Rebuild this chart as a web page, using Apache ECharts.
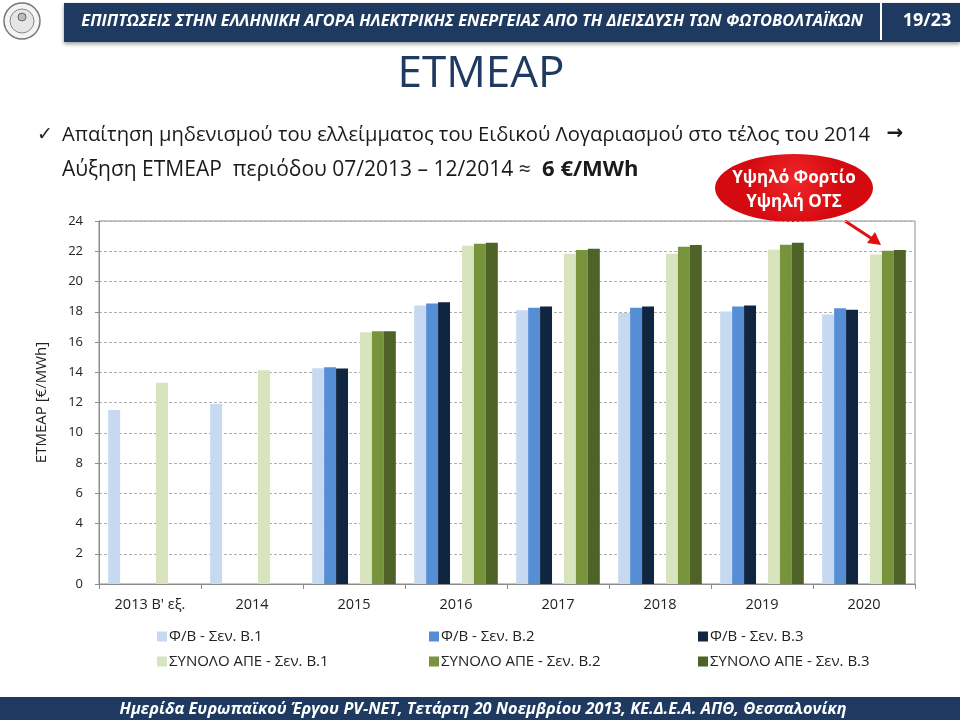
<!DOCTYPE html>
<html><head><meta charset="utf-8">
<script src="https://cdn.jsdelivr.net/npm/echarts@6/dist/echarts.min.js"></script>
<style>html,body{margin:0;padding:0;background:#fff}#c{width:960px;height:720px}</style>
</head><body><div id="c"></div>
<script>
const categories = ["2013 Β' εξ.", "2014", "2015", "2016", "2017", "2018", "2019", "2020"];
const seriesNames = ["Φ/Β - Σεν. Β.1", "Φ/Β - Σεν. Β.2", "Φ/Β - Σεν. Β.3", "ΣΥΝΟΛΟ ΑΠΕ - Σεν. Β.1", "ΣΥΝΟΛΟ ΑΠΕ - Σεν. Β.2", "ΣΥΝΟΛΟ ΑΠΕ - Σεν. Β.3"];
const pv1 = [11.5, 11.9, 14.27, 18.41, 18.1, 17.92, 18.01, 17.81];
const pv2 = [null, null, 14.33, 18.54, 18.27, 18.27, 18.34, 18.23];
const pv3 = [null, null, 14.25, 18.63, 18.34, 18.34, 18.41, 18.14];
const res1 = [13.3, 14.13, 16.64, 22.37, 21.84, 21.84, 22.1, 21.78];
const res2 = [null, null, 16.71, 22.5, 22.08, 22.3, 22.43, 22.04];
const res3 = [null, null, 16.71, 22.57, 22.17, 22.41, 22.57, 22.08];
const yTicks = [0, 2, 4, 6, 8, 10, 12, 14, 16, 18, 20, 22, 24];
const colors = ["#C6D9F1", "#558ED5", "#10253F", "#D7E4BD", "#77933C", "#4F6228"];

const FONT = "Open Sans";
const chart = echarts.init(document.getElementById('c'));
const dataSets = [pv1, pv2, pv3, null, res1, res2, res3];
const series = [];
let k = 0;
dataSets.forEach(function (d) {
  if (d === null) {
    series.push({ type: 'bar', name: '_gap', data: categories.map(function () { return null; }), barGap: 0, barCategoryGap: '18%' });
  } else {
    series.push({ type: 'bar', name: seriesNames[k], data: d, itemStyle: { color: colors[k] }, barGap: 0, barCategoryGap: '18%' });
    k++;
  }
});

const legendPos = [[152, 624], [424, 624], [693, 624], [152, 649], [424, 649], [693, 649]];
const legends = seriesNames.map(function (n, i) {
  return { data: [n], left: legendPos[i][0], top: legendPos[i][1], icon: 'rect', itemWidth: 10, itemHeight: 10, itemGap: 0,
    textStyle: { fontFamily: FONT, fontSize: 15, color: '#222', padding: [0, 0, 0, -3] }, selectedMode: false };
});

chart.setOption({
  animation: false,
  backgroundColor: '#fff',
  grid: { left: 99, right: 45, top: 221, bottom: 136, show: true, borderColor: '#8c8c8c', borderWidth: 1 },
  legend: legends,
  xAxis: {
    type: 'category', data: categories,
    axisLine: { lineStyle: { color: '#8c8c8c' } },
    axisTick: { show: true, length: 5, lineStyle: { color: '#8c8c8c' } },
    axisLabel: { fontFamily: FONT, fontSize: 14.5, color: '#222', margin: 13 }
  },
  yAxis: {
    type: 'value', min: 0, max: 24, interval: 2,
    name: 'ΕΤΜΕΑΡ [€/MWh]', nameLocation: 'middle', nameGap: 50, nameRotate: 90,
    nameTextStyle: { fontFamily: FONT, fontSize: 15, color: '#222' },
    axisLine: { show: true, lineStyle: { color: '#8c8c8c' } },
    axisTick: { show: true, length: 4, lineStyle: { color: '#8c8c8c' } },
    axisLabel: { fontFamily: FONT, fontSize: 13, color: '#222', margin: 16,
      formatter: function (v) { return yTicks.indexOf(v) >= 0 ? String(v) : ''; } },
    splitLine: { show: true, lineStyle: { color: '#b0b0b0', type: [3, 2], width: 1 } }
  },
  series: series,
  graphic: [
    { type: 'rect', shape: { x: 64, y: 3, width: 896, height: 39 }, style: { fill: '#1F3A60', shadowBlur: 4, shadowColor: 'rgba(0,0,0,0.4)', shadowOffsetY: 2 } },
    { type: 'line', shape: { x1: 881, y1: 3, x2: 881, y2: 40 }, style: { stroke: '#fff', lineWidth: 2 } },
    { type: 'text', style: { text: 'ΕΠΙΠΤΩΣΕΙΣ ΣΤΗΝ ΕΛΛΗΝΙΚΗ ΑΓΟΡΑ ΗΛΕΚΤΡΙΚΗΣ ΕΝΕΡΓΕΙΑΣ ΑΠΟ ΤΗ ΔΙΕΙΣΔΥΣΗ ΤΩΝ ΦΩΤΟΒΟΛΤΑΪΚΩΝ', x: 472, y: 21, align: 'center', verticalAlign: 'middle', fill: '#fff', font: 'italic bold 16.4px "Open Sans"' } },
    { type: 'text', style: { text: '19/23', x: 927, y: 21, align: 'center', verticalAlign: 'middle', fill: '#fff', font: 'bold 18px "Open Sans"' } },
    { type: 'circle', shape: { cx: 22, cy: 21, r: 18 }, style: { fill: '#f4f4f4', stroke: '#777', lineWidth: 1.5 } },
    { type: 'circle', shape: { cx: 22, cy: 21, r: 12 }, style: { fill: '#e6e6e6', stroke: '#888', lineWidth: 1 } },
    { type: 'circle', shape: { cx: 22, cy: 17, r: 4 }, style: { fill: '#bbb', stroke: '#666', lineWidth: 1 } },
    { type: 'text', style: { text: 'ΕΤΜΕΑΡ', x: 481, y: 74, align: 'center', verticalAlign: 'middle', fill: '#1F3A60', font: '500 44px "Open Sans"' } },
    { type: 'text', style: { text: '✓', x: 45, y: 135, align: 'center', verticalAlign: 'middle', fill: '#222', font: '19px "DejaVu Sans"' } },
    { type: 'text', style: { text: 'Απαίτηση μηδενισμού του ελλείμματος του Ειδικού Λογαριασμού στο τέλος του 2014', x: 62, y: 135, verticalAlign: 'middle', fill: '#1a1a1a', font: '20.2px "Open Sans"' } },
    { type: 'text', style: { text: '→', x: 895, y: 134, align: 'center', verticalAlign: 'middle', fill: '#1a1a1a', font: 'bold 20px "DejaVu Sans"' } },
    { type: 'text', style: { x: 62, y: 170, verticalAlign: 'middle',
        text: '{a|Αύξηση ΕΤΜΕΑΡ  περιόδου 07/2013 – 12/2014 ≈ }{b|6 €/MWh}',
        rich: { a: { fill: '#1a1a1a', fontFamily: FONT, fontSize: 21, padding: [0, 6, 0, 0] }, b: { fill: '#1a1a1a', fontFamily: FONT, fontSize: 22, fontWeight: 'bold' } } } },
    { type: 'ellipse', shape: { cx: 794, cy: 188, rx: 79, ry: 34 }, style: { fill: new echarts.graphic.RadialGradient(0.5, 0.4, 0.7, [{ offset: 0, color: '#F0262A' }, { offset: 1, color: '#D40A10' }]) } },
    { type: 'text', style: { text: 'Υψηλό Φορτίο\nΥψηλή ΟΤΣ', x: 794, y: 190, align: 'center', verticalAlign: 'middle', fill: '#fff', font: 'bold 17px "Open Sans"', lineHeight: 24 } },
    { type: 'line', shape: { x1: 845, y1: 221, x2: 877, y2: 242 }, style: { stroke: '#E01010', lineWidth: 3 } },
    { type: 'polygon', shape: { points: [[881, 245], [867, 243], [875, 232]] }, style: { fill: '#E01010' } },
    { type: 'rect', shape: { x: 0, y: 697, width: 960, height: 23 }, style: { fill: '#1F3A60' } },
    { type: 'text', style: { text: 'Ημερίδα Ευρωπαϊκού Έργου PV-NET, Τετάρτη 20 Νοεμβρίου 2013, ΚΕ.Δ.Ε.Α. ΑΠΘ, Θεσσαλονίκη', x: 483, y: 709, align: 'center', verticalAlign: 'middle', fill: '#fff', font: 'italic bold 16.3px "Open Sans"' } }
  ]
});
</script></body></html>
